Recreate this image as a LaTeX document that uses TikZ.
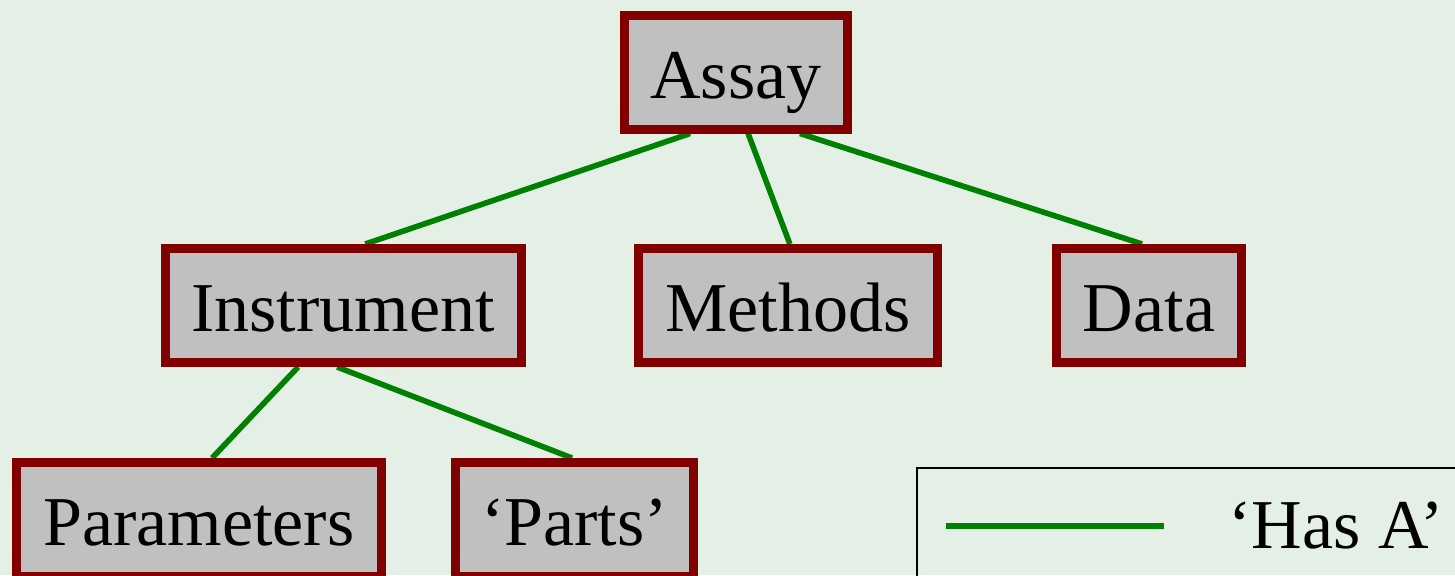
\documentclass[tikz,border=0pt]{standalone}
\usepackage{fontspec}
\setmainfont{Liberation Serif}
\usetikzlibrary{calc}
\definecolor{bgc}{RGB}{228,240,230}
\definecolor{boxfill}{RGB}{192,192,192}
\definecolor{boxdraw}{RGB}{128,0,0}
\definecolor{edgec}{RGB}{0,128,0}
\pgfdeclarelayer{bglayer}
\pgfdeclarelayer{edgelayer}
\pgfsetlayers{bglayer,edgelayer,main}
\tikzset{
  classbox/.style={draw=boxdraw, fill=boxfill, line width=4.5pt, inner sep=0pt,
    minimum height=57pt, text height=26pt, text depth=0pt,
    font=\rmfamily\fontsize{35}{42}\selectfont},
  hasa/.style={draw=edgec, line width=2.8pt},
}
\begin{document}
\begin{tikzpicture}[x=0.5pt,y=-0.5pt]
\begin{pgfonlayer}{bglayer}
\fill[bgc] (0,0) rectangle (1455,575);
\end{pgfonlayer}
\useasboundingbox (0,0) rectangle (1455,575);

\node[classbox, minimum width=111.5pt] (assay) at (736,72) {Assay};
\node[classbox, minimum width=178pt] (instr) at (343,305.5) {Instrument};
\node[classbox, minimum width=149.5pt] (meth) at (788,305.5) {Methods};
\node[classbox, minimum width=92.5pt] (data) at (1149,305.5) {Data};
\node[classbox, minimum width=182.5pt] (param) at (199,519.5) {Parameters};
\node[classbox, minimum width=119pt] (parts) at (574.5,519.5) {‘Parts’};

\begin{pgfonlayer}{edgelayer}
\draw[hasa] ($(assay.south west)!0.302!(assay.south east)$) -- ($(instr.north west)!0.561!(instr.north east)$);
\draw[hasa] ($(assay.south west)!0.552!(assay.south east)$) -- ($(meth.north west)!0.506!(meth.north east)$);
\draw[hasa] ($(assay.south west)!0.776!(assay.south east)$) -- ($(data.north west)!0.464!(data.north east)$);
\draw[hasa] ($(instr.south west)!0.377!(instr.south east)$) -- ($(param.north west)!0.535!(param.north east)$);
\draw[hasa] ($(instr.south west)!0.484!(instr.south east)$) -- ($(parts.north west)!0.49!(parts.north east)$);
\end{pgfonlayer}

% legend
\draw[black, line width=1pt] (917,620) |- (1500,468);
\coordinate (lgA) at (946,526);
\coordinate (lgB) at (1164,526);
\draw[hasa] (lgA) -- (lgB);
\node[anchor=base west, inner sep=0pt, font=\rmfamily\fontsize{35}{42}\selectfont] (lgtext) at (1228,548) {‘Has A’};
\end{tikzpicture}
\end{document}
